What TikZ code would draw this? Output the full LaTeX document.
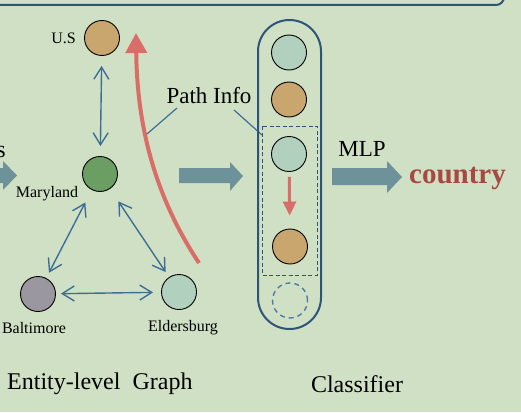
\documentclass[tikz,border=0pt]{standalone}
\usepackage{fontspec}
\setmainfont{Liberation Serif}
\usetikzlibrary{arrows.meta}
\definecolor{bg}{RGB}{208,224,196}
\definecolor{tan}{RGB}{201,166,109}
\definecolor{dgreen}{RGB}{106,158,99}
\definecolor{gray2}{RGB}{155,151,160}
\definecolor{teal2}{RGB}{178,208,190}
\definecolor{blue2}{RGB}{62,110,150}
\definecolor{bigarr}{RGB}{110,146,154}
\definecolor{red2}{RGB}{217,110,104}
\definecolor{country}{RGB}{168,72,66}
\definecolor{capsule}{RGB}{46,84,120}
\definecolor{dashblue}{RGB}{74,125,170}
\tikzset{
  ent/.style={circle, draw=black, line width=0.9pt, minimum size=35pt, inner sep=0pt},
  lab/.style={font=\fontsize{16}{18}\selectfont, inner sep=0pt},
  biglab/.style={font=\fontsize{24}{28}\selectfont, inner sep=0pt},
  rel/.style={blue2, line width=1.4pt, {Straight Barb[length=12pt,width=15pt]}-{Straight Barb[length=12pt,width=15pt]}},
  fat/.style={fill=bigarr, draw=none},
  ptr/.style={blue2, line width=1.2pt}
}
\begin{document}
\begin{tikzpicture}[x=1pt,y=-1pt]
\fill[bg] (0,0) rectangle (521,412);
\useasboundingbox (0,0) rectangle (521,412);
% top frame
\draw[capsule, line width=2pt] (-5,5) -- (496,5) arc[start angle=90, end angle=0, radius=8] -- (504,-5);
% entity graph
\node[ent, fill=tan] (us) at (102,38) {};
\node[lab, anchor=east] at (76,38) {U.S};
\node[ent, fill=dgreen] (md) at (100,174) {};
\node[lab] at (47,194) {Maryland};
\node[ent, fill=gray2] (bal) at (38,294) {};
\node[lab] at (34,328) {Baltimore};
\node[ent, fill=teal2] (eld) at (179,292) {};
\node[lab] at (183,328) {Eldersburg};
\draw[rel, shorten <=10pt, shorten >=10pt] (us) -- (md);
\draw[rel, shorten <=14pt, shorten >=6pt] (md) -- (bal);
\draw[rel, shorten <=15pt, shorten >=6pt] (md) -- (eld);
\draw[rel, shorten <=5pt, shorten >=8pt] (bal) -- (eld);
% red path
\coordinate (rs) at (199,263);
\coordinate (re) at (136,33);
\draw[red2, line width=4pt, -{Triangle[length=20pt,width=21pt]}] (rs) .. controls (152,192) and (137,120) .. (re);
% path info
\node[font=\fontsize{23}{26}\selectfont, inner sep=0pt] (pi) at (209,96) {Path Info};
\coordinate (p1a) at (177,108);
\coordinate (p1b) at (147,134);
\coordinate (p2a) at (234,110);
\coordinate (p2b) at (262,135);
\draw[ptr] (p1a) -- (p1b);
\draw[ptr] (p2a) -- (p2b);
% left partial text and arrow
\node[biglab, anchor=base east] at (6,157) {s};
\fill[fat] (-5,168) -- (3,168) -- (3,161) -- (17,175.5) -- (3,190) -- (3,183) -- (-5,183) -- cycle;
% middle arrow
\fill[fat] (179,168) -- (230,168) -- (230,162) -- (243,176) -- (230,191) -- (230,183) -- (179,183) -- cycle;
% classifier capsule
\node[draw=capsule, line width=2pt, rounded corners=31.5pt, minimum width=63pt, minimum height=309pt, inner sep=0pt] (cap) at (289.5,174.5) {};
\draw[capsule, line width=1pt, dash pattern=on 4pt off 2.5pt] (262,126) rectangle (317,275);
\node[ent, fill=teal2] (c1) at (289,52.5) {};
\node[ent, fill=tan] (c2) at (289,99.5) {};
\node[ent, fill=teal2] (c3) at (289,154) {};
\node[ent, fill=tan] (c4) at (290,246.5) {};
\node[circle, draw=dashblue, line width=1.4pt, dash pattern=on 5pt off 4pt, minimum size=35pt, inner sep=0pt] (c5) at (290,300.5) {};
\draw[red2, line width=3pt, -{Triangle[length=14pt,width=13pt]}, shorten <=5pt, shorten >=13pt] (c3) -- (c4);
% MLP
\node[font=\fontsize{23}{26}\selectfont, inner sep=0pt] at (362,149) {MLP};
\fill[fat] (332,168) -- (387,168) -- (387,161) -- (402,177) -- (387,193) -- (387,185) -- (332,185) -- cycle;
\node[font=\fontsize{29}{32}\bfseries\selectfont, text=country, anchor=base west, inner sep=0pt] at (409,183) {country};
% captions
\node[biglab, anchor=west] at (7,384) {Entity-level\ \ Graph};
\node[biglab] at (357,384) {Classifier};
\end{tikzpicture}
\end{document}
